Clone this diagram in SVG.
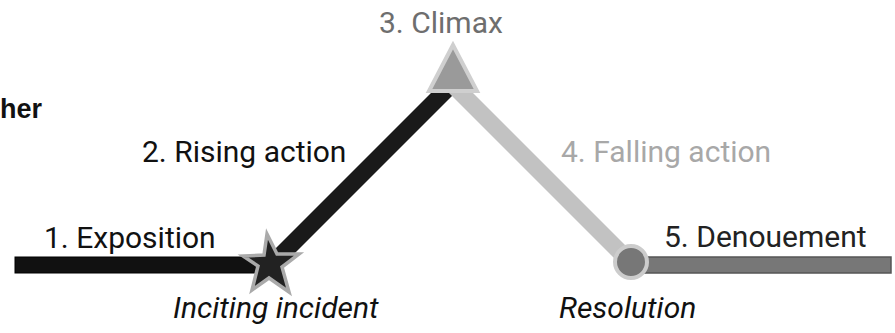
<svg xmlns="http://www.w3.org/2000/svg" width="895" height="333" viewBox="0 0 895 333">
<style>
.t{font-family:Roboto,"Liberation Sans",sans-serif;font-size:30px;}
.i{font-style:italic;}
</style>
<rect width="895" height="333" fill="#ffffff"/>
<text x="0" y="118" font-family="'Liberation Sans',Arial,sans-serif" font-weight="bold" font-size="27" fill="#111">her</text>
<g id="connectors">
<rect x="15" y="257" width="258" height="16" fill="#111" stroke="#000" stroke-width="1"/>
<line x1="272" y1="264" x2="452" y2="84" stroke="#1a1a1a" stroke-width="17"/>
<line x1="452" y1="84" x2="631" y2="263" stroke="#c2c2c2" stroke-width="17"/>
<rect x="631" y="257" width="260" height="16" fill="#777" stroke="#555" stroke-width="1.5"/>
</g>
<g id="exposition">
<text class="t" x="44" y="248" fill="#111">1. Exposition</text>
</g>
<g id="inciting">
<polygon points="267,234 277,254 299,254 282,267 289,292 269,278 252,290 258,266 243,256 264,255" fill="#222" stroke="#aaa" stroke-width="3.5" stroke-linejoin="miter"/>
<text class="t i" x="173" y="318" fill="#111">Inciting incident</text>
</g>
<g id="rising">
<text class="t" x="142" y="162" fill="#111">2. Rising action</text>
</g>
<g id="climax">
<polygon points="453,45 429,91 477,91" fill="#9a9a9a" stroke="#cfcfcf" stroke-width="4" stroke-linejoin="miter"/>
<text class="t" x="379" y="33" fill="#6e6e6e">3. Climax</text>
</g>
<g id="falling">
<text class="t" x="561" y="162" fill="#a8a8a8">4. Falling action</text>
</g>
<g id="resolution">
<circle cx="631" cy="262" r="16" fill="#777" stroke="#cccccc" stroke-width="4"/>
<text class="t i" x="559" y="318" fill="#111">Resolution</text>
</g>
<g id="denouement">
<text class="t" x="664" y="247" fill="#222">5. Denouement</text>
</g>
</svg>
